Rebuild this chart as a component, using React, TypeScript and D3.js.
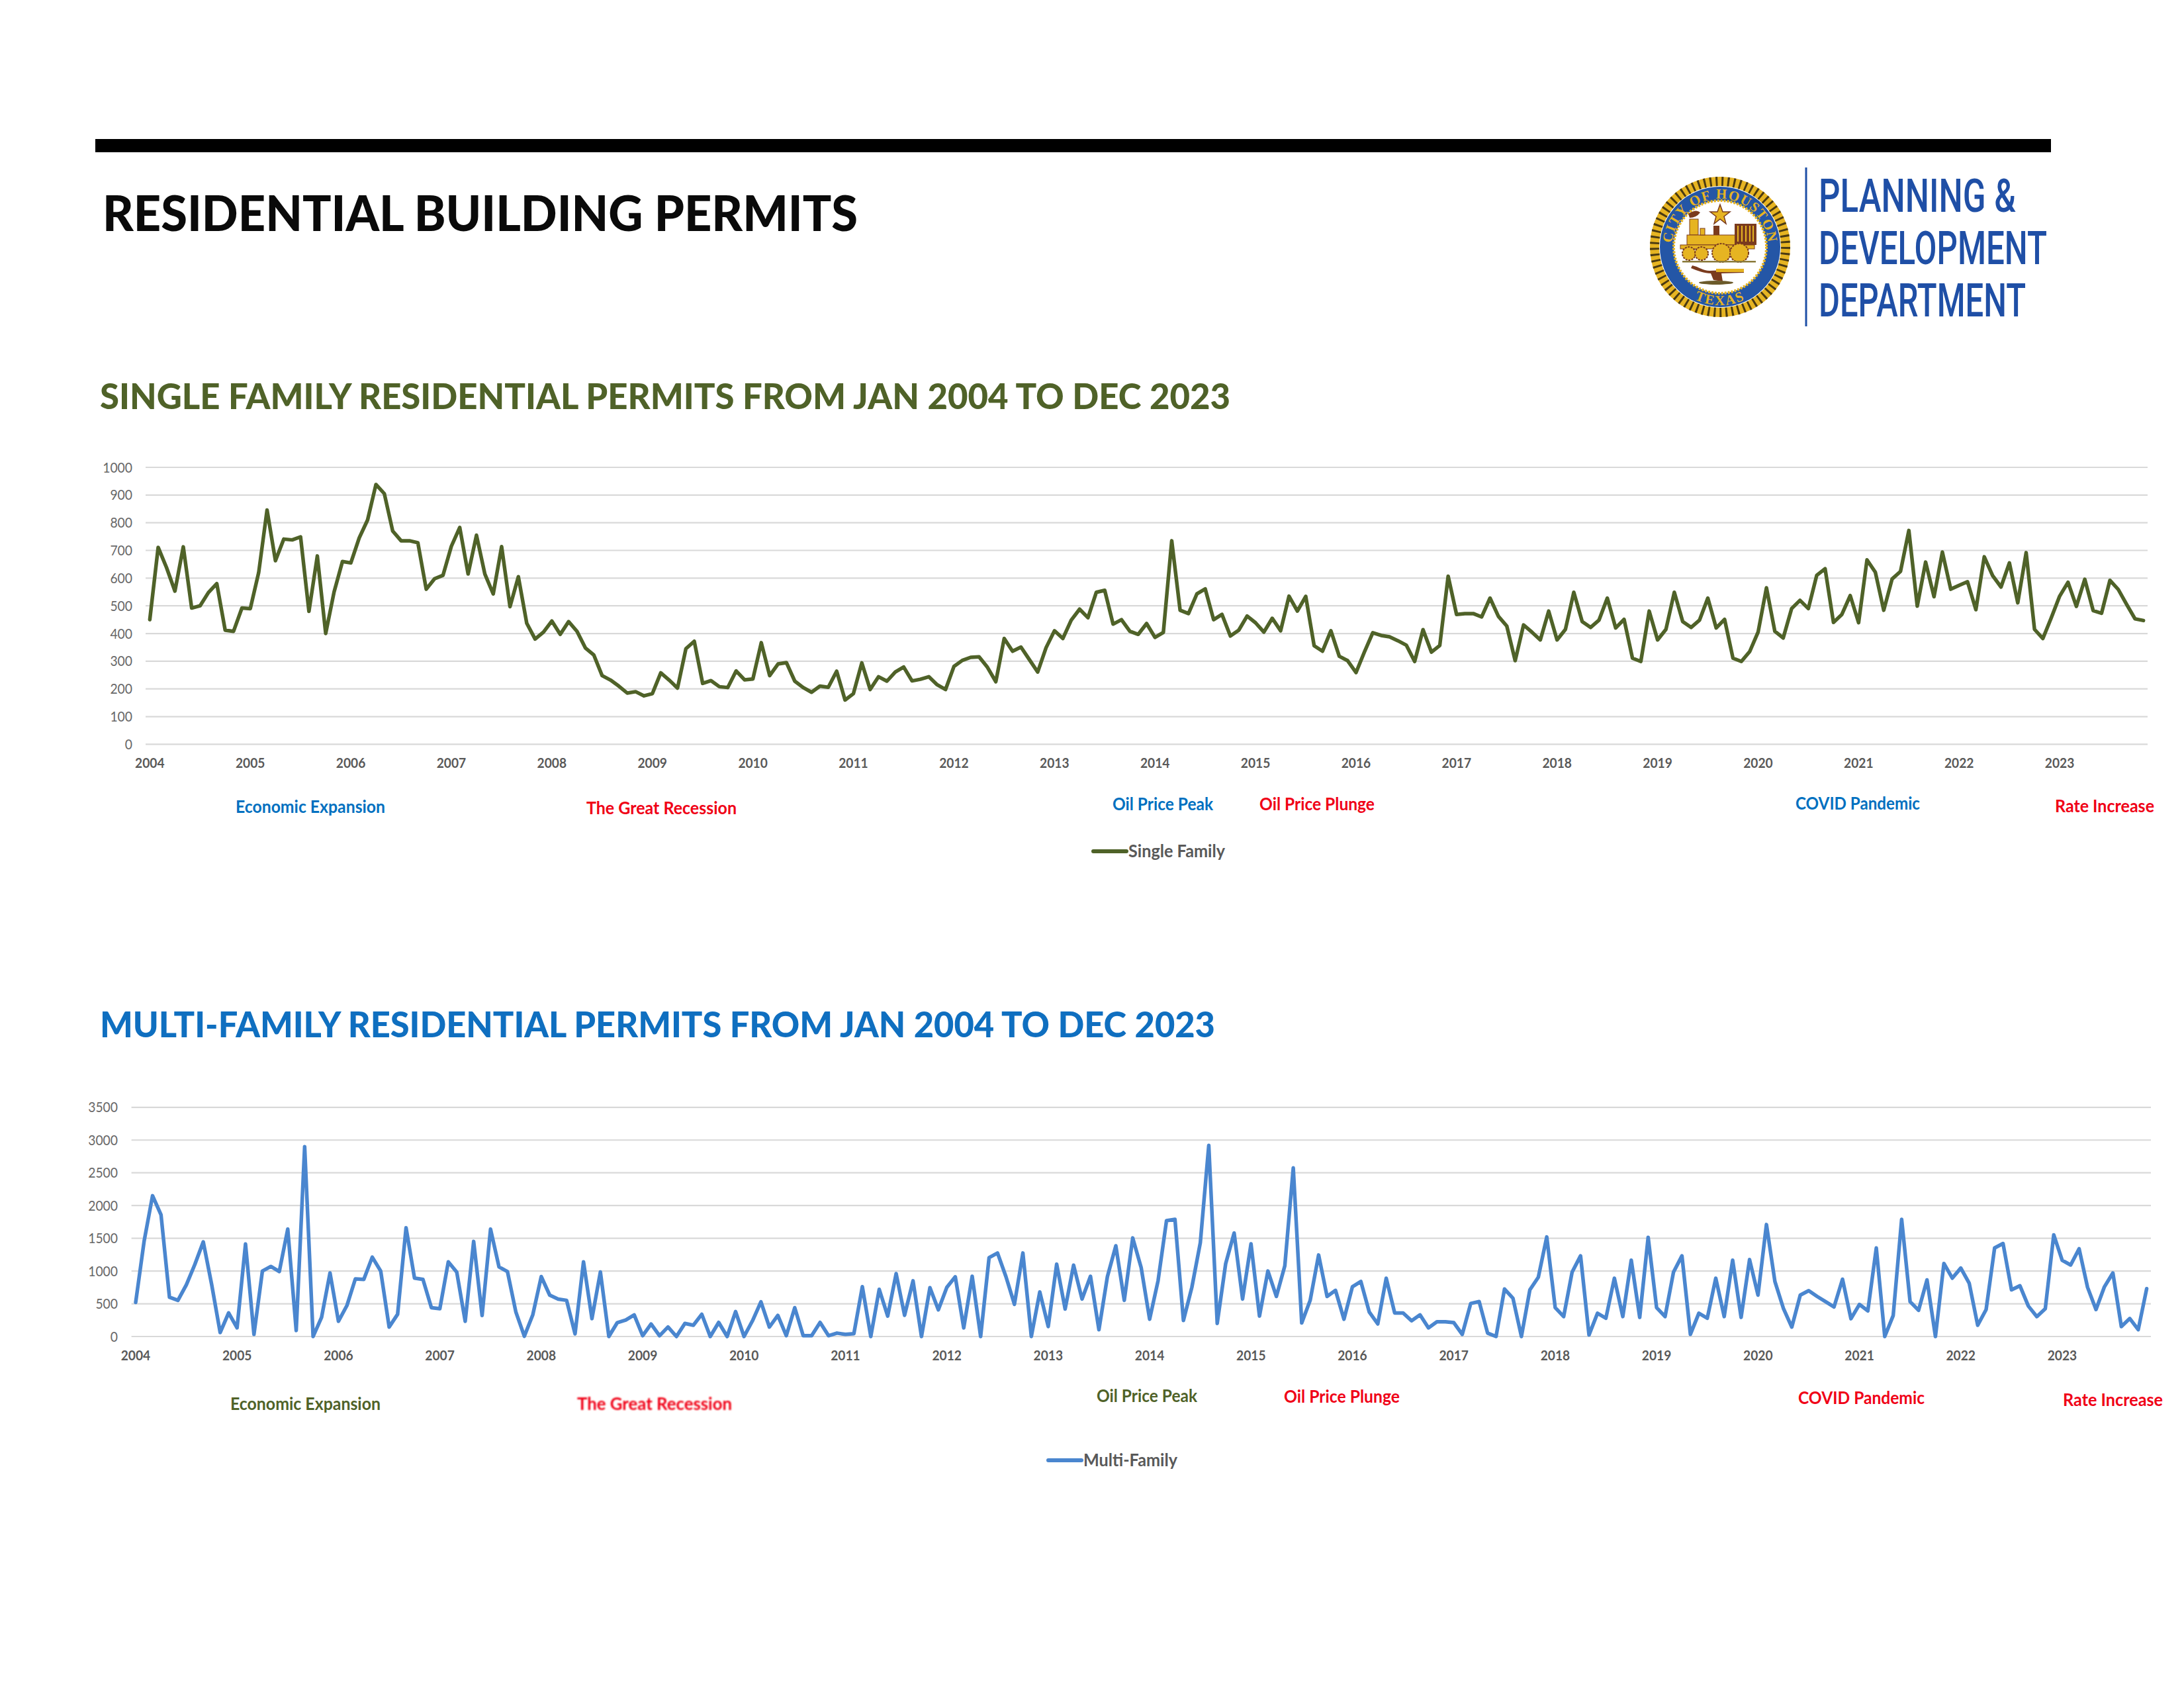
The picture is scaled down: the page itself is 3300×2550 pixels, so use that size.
import React from "react";
import * as d3 from "d3";

const years = ["2004","2005","2006","2007","2008","2009","2010","2011","2012","2013","2014","2015","2016","2017","2018","2019","2020","2021","2022","2023"];

const singleFamily = [
  450,711,638,553,713,492,500,548,580,412,408,492,
  490,620,846,663,741,738,749,480,680,400,550,660,
  655,745,810,938,905,770,735,735,728,560,598,610,
  715,783,615,755,615,543,714,497,605,437,380,405,
  445,397,443,408,348,323,248,232,210,185,190,175,
  183,258,232,203,345,372,220,230,208,205,265,233,
  236,367,248,290,295,228,205,188,210,206,264,160,
  183,294,198,244,228,261,279,229,235,244,215,198,
  281,303,314,316,278,226,382,336,351,306,261,349,
  410,382,448,488,457,549,556,434,450,408,397,436,
  386,404,735,484,472,543,561,450,469,391,412,463,
  439,405,455,410,535,481,534,356,336,410,318,302,
  259,333,403,393,388,374,358,299,414,333,357,607,
  469,472,472,460,528,462,427,302,431,405,377,481,
  377,415,549,443,422,448,528,420,451,311,299,481,
  377,415,549,443,422,448,528,420,451,311,299,335,
  405,565,408,384,490,520,490,610,634,440,469,537,
  439,666,621,484,597,624,772,499,658,533,694,560,
  574,587,486,677,609,568,655,511,692,415,382,457,
  535,585,498,596,483,473,592,559,505,453,447,
];

const multiFamily = [
  520,1455,2150,1860,600,552,790,1100,1445,790,60,360,
  132,1412,32,1000,1070,992,1640,92,2900,0,292,970,
  232,472,880,872,1212,1000,144,340,1660,892,872,440,
  424,1140,984,232,1452,320,1640,1062,992,372,4,332,
  915,632,572,552,40,1140,272,985,0,212,252,330,
  12,190,12,145,0,200,172,340,0,215,0,380,
  0,240,530,144,322,12,440,12,12,215,12,52,
  32,44,760,0,720,312,960,324,850,0,745,408,
  750,912,132,920,0,1204,1275,912,492,1275,0,680,
  152,1105,420,1090,572,920,104,912,1385,552,1505,1052,
  264,852,1770,1790,244,752,1432,2920,200,1112,1580,572,
  1415,312,1000,612,1080,2575,208,552,1245,612,704,264,
  760,840,372,192,890,360,360,240,330,132,224,224,
  212,32,504,534,52,0,725,584,0,712,904,1520,
  440,304,984,1232,24,355,280,890,304,1165,292,1515,
  440,304,984,1232,32,355,280,890,304,1165,292,1175,
  632,1710,840,432,144,632,700,612,532,452,875,272,
  490,392,1352,0,320,1790,532,400,865,0,1115,892,
  1045,812,172,412,1352,1420,712,775,464,304,425,1552,
  1164,1092,1340,752,412,760,970,152,275,104,730,
];

const singleTicks = [0,100,200,300,400,500,600,700,800,900,1000];
const multiTicks = [0,500,1000,1500,2000,2500,3000,3500];

const OLIVE = "#4f6228";
const BLUE = "#4a86cf";
const TITLE_BLUE = "#0f6fc0";
const NOTE_BLUE = "#0070c0";
const RED = "#f00016";
const GREY = "#595959";
const AXIS_GREY = "#686868";
const GRID = "#d9d9d9";
const LOGO_BLUE = "#1f4fa6";
const BODY = "Lato, 'Noto Sans', sans-serif";

function Fit({ x, y, w, size, fill, weight = 700, anchor = "start", filter, family = BODY, children }: any) {
  const left = anchor === "end" ? x - w : anchor === "middle" ? x - w / 2 : x;
  return (
    <text x={left} y={y} fontFamily={family} fontSize={size} fontWeight={weight} fill={fill}
      textLength={w} lengthAdjust="spacingAndGlyphs" filter={filter}>{children}</text>
  );
}

function Chart({ values, ticks, max, x0, x1, yTop, yBottom, color, labelRight, xLabelY, name, legend, notes }: any) {
  const idx = d3.range(values.length);
  const x = d3.scalePoint<number>().domain(idx).range([x0, x1]).padding(0.5);
  const y = d3.scaleLinear().domain([0, max]).range([yBottom, yTop]);
  const path = d3.line<number>().x((_, i) => x(i) as number).y((d) => y(d)).curve(d3.curveLinear)(values) as string;
  return (
    <g>
      {ticks.map((t: number) => (
        <g key={t}>
          <line x1={x0} x2={x1} y1={y(t)} y2={y(t)} stroke={GRID} strokeWidth={2.2} />
          <Fit x={labelRight} y={y(t) + 7.5} w={String(t).length * 11.2} size={20.5} fill={AXIS_GREY} weight={400} anchor="end">{t}</Fit>
        </g>
      ))}
      {years.map((yr, i) => (
        <Fit key={yr} x={x(i * 12) as number} y={xLabelY} w={44.5} size={21} fill={GREY} weight={700} anchor="middle">{yr}</Fit>
      ))}
      <path d={path} fill="none" stroke={color} strokeWidth={5.5} strokeLinejoin="round" strokeLinecap="round" />
      {notes.map((n: any) => (
        <Fit key={n.text} x={n.x} y={n.y} w={n.w} size={27} fill={n.fill} filter={n.blur ? "url(#soft)" : undefined}>{n.text}</Fit>
      ))}
      <line x1={legend.x} x2={legend.x + 50} y1={legend.y} y2={legend.y} stroke={color} strokeWidth={6} strokeLinecap="round" />
      <Fit x={legend.x + 53} y={legend.y + 9} w={legend.w} size={27} fill={GREY}>{name}</Fit>
    </g>
  );
}

function Seal() {
  const gold = "#e6b422";
  const brown = "#7a3b1e";
  return (
    <g transform="translate(2599,373)">
      <defs>
        <path id="sealTop" d="M -73 0 A 73 73 0 0 1 73 0" />
        <path id="sealBottom" d="M -88 0 A 88 88 0 0 0 88 0" />
      </defs>
      <circle r={99} fill="none" stroke={gold} strokeWidth={14} />
      <circle r={99} fill="none" stroke="#4a3a12" strokeWidth={14} strokeDasharray="3 6" />
      <circle r={91} fill="#2456a6" />
      <circle r={70} fill="#ffffff" stroke={gold} strokeWidth={4} strokeDasharray="3 2" />
      <text fontFamily="'Liberation Serif', serif" fontWeight={700} fontSize={21} fill={gold} letterSpacing={1.5}>
        <textPath href="#sealTop" startOffset="50%" textAnchor="middle">CITY OF HOUSTON</textPath>
      </text>
      <text fontFamily="'Liberation Serif', serif" fontWeight={700} fontSize={21} fill={gold} letterSpacing={2}>
        <textPath href="#sealBottom" startOffset="50%" textAnchor="middle">TEXAS</textPath>
      </text>
      <path d="M0 -64 L4 -53 L15 -53 L6 -46 L9 -35 L0 -42 L-9 -35 L-6 -46 L-15 -53 L-4 -53 Z" fill={gold} stroke={brown} strokeWidth={1.5} />
      <path d="M-48 -50 q12 -8 18 -2 q-6 8 -16 8 Z" fill={brown} />
      <rect x={-46} y={-42} width={13} height={24} fill={gold} stroke={brown} />
      <rect x={-50} y={-18} width={74} height={15} fill={gold} stroke={brown} />
      <rect x={-30} y={-28} width={7} height={10} fill={gold} stroke={brown} />
      <rect x={-10} y={-32} width={9} height={14} fill={brown} />
      <rect x={22} y={-35} width={33} height={32} fill={brown} />
      <path d="M27 -32 V-8 M33 -32 V-8 M39 -32 V-8 M45 -32 V-8 M50 -32 V-8" stroke={gold} strokeWidth={2} />
      <rect x={-60} y={-3} width={112} height={6} fill={gold} stroke={brown} />
      {[[-47, 10, 10], [-28, 10, 10], [2, 9, 14], [29, 9, 14]].map(([cx, cy, r]) => (
        <circle key={cx} cx={cx} cy={cy} r={r} fill={gold} stroke={brown} strokeWidth={2} strokeDasharray="3 1.5" />
      ))}
      <rect x={-57} y={21} width={111} height={2.5} fill="#8a7a3a" />
      <path d="M-42 28 C-32 30 -26 36 -16 36 L36 34 L36 39 L2 40 L4 52 L-10 50 L-14 40 C-24 40 -34 36 -44 32 Z" fill={brown} />
      <rect x={-6} y={33} width={42} height={5} fill={gold} />
      <ellipse cx={-6} cy={54} rx={26} ry={3} fill="#6b5a2a" />
    </g>
  );
}

function Logo() {
  const lines = [
    { t: "PLANNING &", y: 320, w: 298 },
    { t: "DEVELOPMENT", y: 399, w: 345 },
    { t: "DEPARTMENT", y: 478, w: 313 },
  ];
  return (
    <g>
      <Seal />
      <line x1={2729} x2={2729} y1={253} y2={493} stroke={LOGO_BLUE} strokeWidth={3} />
      {lines.map((l) => (
        <Fit key={l.t} x={2748} y={l.y} w={l.w} size={70} fill={LOGO_BLUE} weight={500} family="Roboto, sans-serif">{l.t}</Fit>
      ))}
    </g>
  );
}

const topNotes = [
  { text: "Economic Expansion", x: 356, y: 1228, w: 226, fill: NOTE_BLUE },
  { text: "The Great Recession", x: 886, y: 1230, w: 227, fill: RED },
  { text: "Oil Price Peak", x: 1681, y: 1224, w: 152, fill: NOTE_BLUE },
  { text: "Oil Price Plunge", x: 1903, y: 1224, w: 174, fill: RED },
  { text: "COVID Pandemic", x: 2713, y: 1223, w: 188, fill: NOTE_BLUE },
  { text: "Rate Increase", x: 3105, y: 1227, w: 150, fill: RED },
];

const bottomNotes = [
  { text: "Economic Expansion", x: 348, y: 2130, w: 227, fill: OLIVE },
  { text: "The Great Recession", x: 872, y: 2130, w: 234, fill: RED, blur: true },
  { text: "Oil Price Peak", x: 1657, y: 2118, w: 152, fill: OLIVE },
  { text: "Oil Price Plunge", x: 1940, y: 2119, w: 175, fill: RED },
  { text: "COVID Pandemic", x: 2717, y: 2121, w: 191, fill: RED },
  { text: "Rate Increase", x: 3117, y: 2124, w: 151, fill: RED },
];

export default function App() {
  return (
    <svg width={3300} height={2550} viewBox="0 0 3300 2550" style={{ position: "absolute", left: 0, top: 0, background: "#fff" }}>
      <defs>
        <filter id="soft"><feGaussianBlur stdDeviation="0.9" /></filter>
      </defs>
      <rect x={144} y={210} width={2955} height={20} fill="#000" />
      <Fit x={155} y={348.5} w={1141} size={75} fill="#0a0a0a" weight={900}>RESIDENTIAL BUILDING PERMITS</Fit>
      <Logo />
      <Fit x={151} y={618} w={1708} size={53} fill={OLIVE} weight={900}>SINGLE FAMILY RESIDENTIAL PERMITS FROM JAN 2004 TO DEC 2023</Fit>
      <Chart values={singleFamily} ticks={singleTicks} max={1000} x0={220} x1={3245} yTop={706} yBottom={1124.4}
        color={OLIVE} labelRight={200} xLabelY={1159.5} name="Single Family" legend={{ x: 1652, y: 1286, w: 146 }} notes={topNotes} />
      <Fit x={151} y={1566.5} w={1685} size={53} fill={TITLE_BLUE} weight={900}>MULTI-FAMILY RESIDENTIAL PERMITS FROM JAN 2004 TO DEC 2023</Fit>
      <Chart values={multiFamily} ticks={multiTicks} max={3500} x0={198.6} x1={3250} yTop={1672.8} yBottom={2019}
        color={BLUE} labelRight={178} xLabelY={2055} name="Multi-Family" legend={{ x: 1584, y: 2206, w: 142 }} notes={bottomNotes} />
    </svg>
  );
}
